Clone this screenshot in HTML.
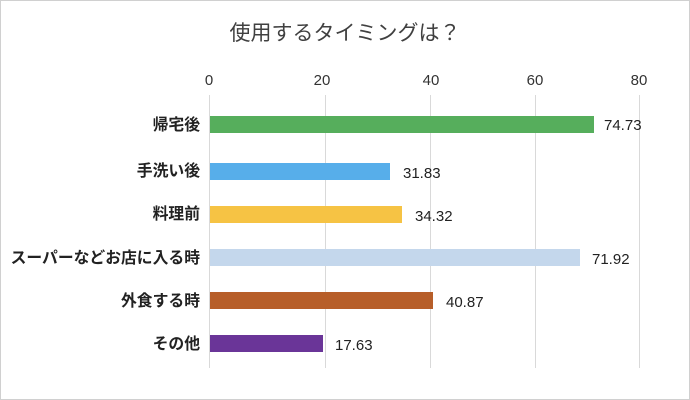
<!DOCTYPE html>
<html><head><meta charset="utf-8"><style>
body{margin:0;background:#fff}
</style></head><body>
<svg width="690" height="400" xmlns="http://www.w3.org/2000/svg" style="display:block;font-family:'Liberation Sans','Noto Sans CJK JP',sans-serif">
<rect x="0.5" y="0.5" width="689" height="399" fill="#fff" stroke="#d0d0d0"/>
<text x="345" y="40" text-anchor="middle" font-size="21" fill="#404040">使用するタイミングは？</text>
<g stroke="#d9d9d9" stroke-width="1">
<line x1="209.5" y1="95" x2="209.5" y2="368"/>
<line x1="325.5" y1="95" x2="325.5" y2="368"/>
<line x1="430.5" y1="95" x2="430.5" y2="368"/>
<line x1="535.5" y1="95" x2="535.5" y2="368"/>
<line x1="639.5" y1="95" x2="639.5" y2="368"/>
</g>
<g font-size="15" fill="#333" text-anchor="middle">
<text x="209" y="85">0</text><text x="322" y="85">20</text><text x="431" y="85">40</text><text x="535" y="85">60</text><text x="639" y="85">80</text>
</g>
<rect x="210" y="116" width="384" height="17" fill="#56ae5c"/>
<rect x="210" y="163" width="180" height="17" fill="#57aeea"/>
<rect x="210" y="206" width="192" height="17" fill="#f6c344"/>
<rect x="210" y="249" width="370" height="17" fill="#c4d7ec"/>
<rect x="210" y="292" width="223" height="17" fill="#b75e29"/>
<rect x="210" y="335" width="113" height="17" fill="#6a3598"/>
<g font-size="15.8" fill="#222" font-weight="bold" text-anchor="end">
<text x="200" y="130">帰宅後</text>
<text x="200" y="176">手洗い後</text>
<text x="200" y="219">料理前</text>
<text x="200" y="263">スーパーなどお店に入る時</text>
<text x="200" y="306">外食する時</text>
<text x="200" y="349">その他</text>
</g>
<g font-size="15" fill="#222">
<text x="604" y="130">74.73</text>
<text x="403" y="178">31.83</text>
<text x="415" y="221">34.32</text>
<text x="592" y="264">71.92</text>
<text x="446" y="307">40.87</text>
<text x="335" y="350">17.63</text>
</g>
</svg>
</body></html>
